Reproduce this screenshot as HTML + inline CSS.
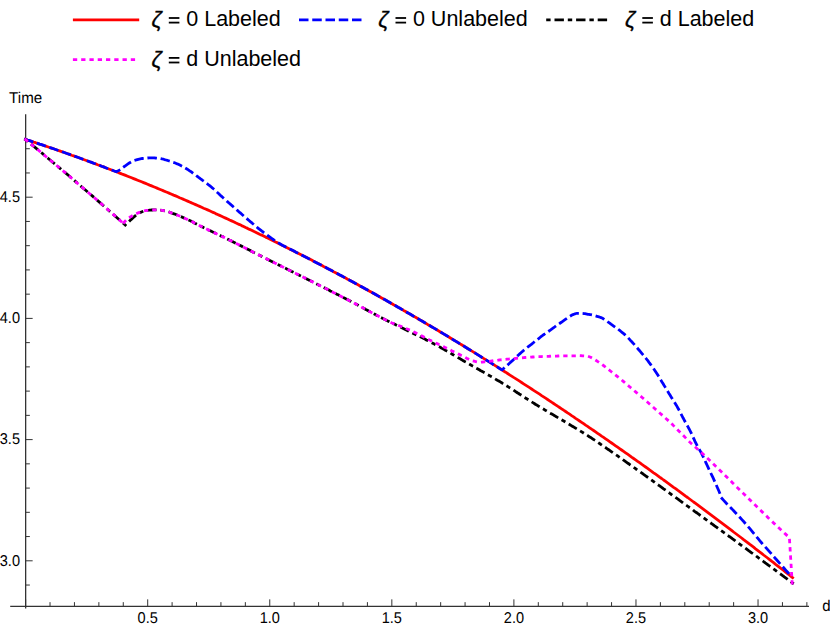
<!DOCTYPE html>
<html><head><meta charset="utf-8"><title>Plot</title>
<style>
html,body{margin:0;padding:0;background:#fff;}
svg{display:block;}
text{font-family:"Liberation Sans",sans-serif;fill:#000;}
.tk{font-size:15px;text-rendering:geometricPrecision;}
.lg{font-size:21.5px;}
.z{font-style:italic;}
</style></head>
<body>
<svg width="830" height="628" viewBox="0 0 830 628">
<rect width="830" height="628" fill="#ffffff"/>
<line x1="10.2" y1="606.35" x2="809" y2="606.35" stroke="#333333" stroke-width="1.3"/>
<line x1="25.65" y1="114.3" x2="25.65" y2="608.6" stroke="#333333" stroke-width="1.3"/>
<line x1="25.62" y1="606.35" x2="25.62" y2="599.35" stroke="#333333" stroke-width="1"/>
<line x1="50.03" y1="606.35" x2="50.03" y2="602.15" stroke="#333333" stroke-width="1"/>
<line x1="74.45" y1="606.35" x2="74.45" y2="602.15" stroke="#333333" stroke-width="1"/>
<line x1="98.86" y1="606.35" x2="98.86" y2="602.15" stroke="#333333" stroke-width="1"/>
<line x1="123.28" y1="606.35" x2="123.28" y2="602.15" stroke="#333333" stroke-width="1"/>
<line x1="147.69" y1="606.35" x2="147.69" y2="599.35" stroke="#333333" stroke-width="1"/>
<line x1="172.10" y1="606.35" x2="172.10" y2="602.15" stroke="#333333" stroke-width="1"/>
<line x1="196.52" y1="606.35" x2="196.52" y2="602.15" stroke="#333333" stroke-width="1"/>
<line x1="220.93" y1="606.35" x2="220.93" y2="602.15" stroke="#333333" stroke-width="1"/>
<line x1="245.35" y1="606.35" x2="245.35" y2="602.15" stroke="#333333" stroke-width="1"/>
<line x1="269.76" y1="606.35" x2="269.76" y2="599.35" stroke="#333333" stroke-width="1"/>
<line x1="294.17" y1="606.35" x2="294.17" y2="602.15" stroke="#333333" stroke-width="1"/>
<line x1="318.59" y1="606.35" x2="318.59" y2="602.15" stroke="#333333" stroke-width="1"/>
<line x1="343.00" y1="606.35" x2="343.00" y2="602.15" stroke="#333333" stroke-width="1"/>
<line x1="367.42" y1="606.35" x2="367.42" y2="602.15" stroke="#333333" stroke-width="1"/>
<line x1="391.83" y1="606.35" x2="391.83" y2="599.35" stroke="#333333" stroke-width="1"/>
<line x1="416.24" y1="606.35" x2="416.24" y2="602.15" stroke="#333333" stroke-width="1"/>
<line x1="440.66" y1="606.35" x2="440.66" y2="602.15" stroke="#333333" stroke-width="1"/>
<line x1="465.07" y1="606.35" x2="465.07" y2="602.15" stroke="#333333" stroke-width="1"/>
<line x1="489.49" y1="606.35" x2="489.49" y2="602.15" stroke="#333333" stroke-width="1"/>
<line x1="513.90" y1="606.35" x2="513.90" y2="599.35" stroke="#333333" stroke-width="1"/>
<line x1="538.31" y1="606.35" x2="538.31" y2="602.15" stroke="#333333" stroke-width="1"/>
<line x1="562.73" y1="606.35" x2="562.73" y2="602.15" stroke="#333333" stroke-width="1"/>
<line x1="587.14" y1="606.35" x2="587.14" y2="602.15" stroke="#333333" stroke-width="1"/>
<line x1="611.56" y1="606.35" x2="611.56" y2="602.15" stroke="#333333" stroke-width="1"/>
<line x1="635.97" y1="606.35" x2="635.97" y2="599.35" stroke="#333333" stroke-width="1"/>
<line x1="660.38" y1="606.35" x2="660.38" y2="602.15" stroke="#333333" stroke-width="1"/>
<line x1="684.80" y1="606.35" x2="684.80" y2="602.15" stroke="#333333" stroke-width="1"/>
<line x1="709.21" y1="606.35" x2="709.21" y2="602.15" stroke="#333333" stroke-width="1"/>
<line x1="733.63" y1="606.35" x2="733.63" y2="602.15" stroke="#333333" stroke-width="1"/>
<line x1="758.04" y1="606.35" x2="758.04" y2="599.35" stroke="#333333" stroke-width="1"/>
<line x1="782.45" y1="606.35" x2="782.45" y2="602.15" stroke="#333333" stroke-width="1"/>
<line x1="806.87" y1="606.35" x2="806.87" y2="602.15" stroke="#333333" stroke-width="1"/>
<line x1="25.65" y1="585.04" x2="29.85" y2="585.04" stroke="#333333" stroke-width="1"/>
<line x1="25.65" y1="560.80" x2="32.65" y2="560.80" stroke="#333333" stroke-width="1"/>
<line x1="25.65" y1="536.56" x2="29.85" y2="536.56" stroke="#333333" stroke-width="1"/>
<line x1="25.65" y1="512.32" x2="29.85" y2="512.32" stroke="#333333" stroke-width="1"/>
<line x1="25.65" y1="488.08" x2="29.85" y2="488.08" stroke="#333333" stroke-width="1"/>
<line x1="25.65" y1="463.84" x2="29.85" y2="463.84" stroke="#333333" stroke-width="1"/>
<line x1="25.65" y1="439.60" x2="32.65" y2="439.60" stroke="#333333" stroke-width="1"/>
<line x1="25.65" y1="415.36" x2="29.85" y2="415.36" stroke="#333333" stroke-width="1"/>
<line x1="25.65" y1="391.12" x2="29.85" y2="391.12" stroke="#333333" stroke-width="1"/>
<line x1="25.65" y1="366.88" x2="29.85" y2="366.88" stroke="#333333" stroke-width="1"/>
<line x1="25.65" y1="342.64" x2="29.85" y2="342.64" stroke="#333333" stroke-width="1"/>
<line x1="25.65" y1="318.40" x2="32.65" y2="318.40" stroke="#333333" stroke-width="1"/>
<line x1="25.65" y1="294.16" x2="29.85" y2="294.16" stroke="#333333" stroke-width="1"/>
<line x1="25.65" y1="269.92" x2="29.85" y2="269.92" stroke="#333333" stroke-width="1"/>
<line x1="25.65" y1="245.68" x2="29.85" y2="245.68" stroke="#333333" stroke-width="1"/>
<line x1="25.65" y1="221.44" x2="29.85" y2="221.44" stroke="#333333" stroke-width="1"/>
<line x1="25.65" y1="197.20" x2="32.65" y2="197.20" stroke="#333333" stroke-width="1"/>
<line x1="25.65" y1="172.96" x2="29.85" y2="172.96" stroke="#333333" stroke-width="1"/>
<line x1="25.65" y1="148.72" x2="29.85" y2="148.72" stroke="#333333" stroke-width="1"/>
<text transform="translate(147.69,622.8) scale(0.97,1.04)" text-anchor="middle" class="tk">0.5</text>
<text transform="translate(269.76,622.8) scale(0.97,1.04)" text-anchor="middle" class="tk">1.0</text>
<text transform="translate(391.83,622.8) scale(0.97,1.04)" text-anchor="middle" class="tk">1.5</text>
<text transform="translate(513.90,622.8) scale(0.97,1.04)" text-anchor="middle" class="tk">2.0</text>
<text transform="translate(635.97,622.8) scale(0.97,1.04)" text-anchor="middle" class="tk">2.5</text>
<text transform="translate(758.04,622.8) scale(0.97,1.04)" text-anchor="middle" class="tk">3.0</text>
<text transform="translate(20.0,565.50) scale(0.97,1.04)" text-anchor="end" class="tk">3.0</text>
<text transform="translate(20.0,444.30) scale(0.97,1.04)" text-anchor="end" class="tk">3.5</text>
<text transform="translate(20.0,323.10) scale(0.97,1.04)" text-anchor="end" class="tk">4.0</text>
<text transform="translate(20.0,201.90) scale(0.97,1.04)" text-anchor="end" class="tk">4.5</text>
<text transform="translate(9.1,102.5) scale(1.01,1.04)" class="tk">Time</text>
<text transform="translate(822.2,610.6) scale(1,1.04)" class="tk">d</text>
<path d="M25.6,139.4 L27.6,140.1 L29.6,140.7 L31.6,141.4 L33.6,142.1 L35.6,142.7 L37.6,143.4 L39.6,144.1 L41.6,144.7 L43.6,145.4 L45.6,146.1 L47.6,146.8 L49.6,147.5 L51.6,148.1 L53.6,148.8 L55.6,149.5 L57.6,150.2 L59.6,150.9 L61.6,151.6 L63.6,152.3 L65.6,153.0 L67.6,153.7 L69.6,154.4 L71.6,155.2 L73.6,155.9 L75.6,156.6 L77.6,157.3 L79.6,158.0 L81.6,158.8 L83.6,159.5 L85.6,160.2 L87.6,161.0 L89.6,161.7 L91.6,162.4 L93.6,163.2 L95.6,163.9 L97.6,164.7 L99.6,165.4 L101.6,166.2 L103.6,166.9 L105.6,167.7 L107.6,168.5 L109.6,169.2 L111.6,170.0 L113.6,170.8 L115.6,171.5 L117.6,172.3 L119.6,173.1 L121.6,173.9 L123.6,174.6 L125.6,175.4 L127.6,176.2 L129.6,177.0 L131.6,177.8 L133.6,178.6 L135.6,179.4 L137.6,180.2 L139.6,181.0 L141.6,181.8 L143.6,182.6 L145.6,183.4 L147.6,184.2 L149.6,185.1 L151.6,185.9 L153.6,186.7 L155.6,187.5 L157.6,188.4 L159.6,189.2 L161.6,190.0 L163.6,190.9 L165.6,191.7 L167.6,192.5 L169.6,193.4 L171.6,194.2 L173.6,195.1 L175.6,195.9 L177.6,196.8 L179.6,197.7 L181.6,198.5 L183.6,199.4 L185.6,200.2 L187.6,201.1 L189.6,202.0 L191.6,202.9 L193.6,203.7 L195.6,204.6 L197.6,205.5 L199.6,206.4 L201.6,207.3 L203.6,208.2 L205.6,209.0 L207.6,209.9 L209.6,210.8 L211.6,211.7 L213.6,212.6 L215.6,213.6 L217.6,214.5 L219.6,215.4 L221.6,216.3 L223.6,217.2 L225.6,218.1 L227.6,219.0 L229.6,220.0 L231.6,220.9 L233.6,221.8 L235.6,222.8 L237.6,223.7 L239.6,224.6 L241.6,225.6 L243.6,226.5 L245.6,227.5 L247.6,228.4 L249.6,229.4 L251.6,230.3 L253.6,231.3 L255.6,232.2 L257.6,233.2 L259.6,234.2 L261.6,235.1 L263.6,236.1 L265.6,237.1 L267.6,238.0 L269.6,239.0 L271.6,240.0 L273.6,241.0 L275.6,242.0 L277.6,242.9 L279.6,243.9 L281.6,244.9 L283.6,245.9 L285.6,246.9 L287.6,247.9 L289.6,248.9 L291.6,249.9 L293.6,250.9 L295.6,252.0 L297.6,253.0 L299.6,254.0 L301.6,255.0 L303.6,256.0 L305.6,257.0 L307.6,258.1 L309.6,259.1 L311.6,260.1 L313.6,261.2 L315.6,262.2 L317.6,263.2 L319.6,264.3 L321.6,265.3 L323.6,266.4 L325.6,267.4 L327.6,268.5 L329.6,269.5 L331.6,270.6 L333.6,271.7 L335.6,272.7 L337.6,273.8 L339.6,274.9 L341.6,275.9 L343.6,277.0 L345.6,278.1 L347.6,279.2 L349.6,280.2 L351.6,281.3 L353.6,282.4 L355.6,283.5 L357.6,284.6 L359.6,285.7 L361.6,286.8 L363.6,287.9 L365.6,289.0 L367.6,290.1 L369.6,291.2 L371.6,292.3 L373.6,293.4 L375.6,294.5 L377.6,295.6 L379.6,296.8 L381.6,297.9 L383.6,299.0 L385.6,300.1 L387.6,301.3 L389.6,302.4 L391.6,303.5 L393.6,304.7 L395.6,305.8 L397.6,306.9 L399.6,308.1 L401.6,309.2 L403.6,310.4 L405.6,311.5 L407.6,312.7 L409.6,313.8 L411.6,315.0 L413.6,316.2 L415.6,317.3 L417.6,318.5 L419.6,319.7 L421.6,320.8 L423.6,322.0 L425.6,323.2 L427.6,324.4 L429.6,325.5 L431.6,326.7 L433.6,327.9 L435.6,329.1 L437.6,330.3 L439.6,331.5 L441.6,332.7 L443.6,333.9 L445.6,335.1 L447.6,336.3 L449.6,337.5 L451.6,338.7 L453.6,339.9 L455.6,341.1 L457.6,342.3 L459.6,343.6 L461.6,344.8 L463.6,346.0 L465.6,347.2 L467.6,348.5 L469.6,349.7 L471.6,350.9 L473.6,352.1 L475.6,353.4 L477.6,354.6 L479.6,355.9 L481.6,357.1 L483.6,358.4 L485.6,359.6 L487.6,360.9 L489.6,362.1 L491.6,363.4 L493.6,364.6 L495.6,365.9 L497.6,367.2 L499.6,368.4 L501.6,369.7 L503.6,371.0 L505.6,372.2 L507.6,373.5 L509.6,374.8 L511.6,376.1 L513.6,377.4 L515.6,378.6 L517.6,379.9 L519.6,381.2 L521.6,382.5 L523.6,383.8 L525.6,385.1 L527.6,386.4 L529.6,387.7 L531.6,389.0 L533.6,390.3 L535.6,391.6 L537.6,392.9 L539.6,394.2 L541.6,395.6 L543.6,396.9 L545.6,398.2 L547.6,399.5 L549.6,400.8 L551.6,402.2 L553.6,403.5 L555.6,404.8 L557.6,406.2 L559.6,407.5 L561.6,408.8 L563.6,410.2 L565.6,411.5 L567.6,412.9 L569.6,414.2 L571.6,415.6 L573.6,416.9 L575.6,418.3 L577.6,419.6 L579.6,421.0 L581.6,422.3 L583.6,423.7 L585.6,425.1 L587.6,426.4 L589.6,427.8 L591.6,429.2 L593.6,430.5 L595.6,431.9 L597.6,433.3 L599.6,434.7 L601.6,436.1 L603.6,437.4 L605.6,438.8 L607.6,440.2 L609.6,441.6 L611.6,443.0 L613.6,444.4 L615.6,445.8 L617.6,447.2 L619.6,448.6 L621.6,450.0 L623.6,451.4 L625.6,452.8 L627.6,454.2 L629.6,455.6 L631.6,457.1 L633.6,458.5 L635.6,459.9 L637.6,461.3 L639.6,462.7 L641.6,464.2 L643.6,465.6 L645.6,467.0 L647.6,468.4 L649.6,469.9 L651.6,471.3 L653.6,472.8 L655.6,474.2 L657.6,475.6 L659.6,477.1 L661.6,478.5 L663.6,480.0 L665.6,481.4 L667.6,482.9 L669.6,484.3 L671.6,485.8 L673.6,487.3 L675.6,488.7 L677.6,490.2 L679.6,491.6 L681.6,493.1 L683.6,494.6 L685.6,496.1 L687.6,497.5 L689.6,499.0 L691.6,500.5 L693.6,502.0 L695.6,503.4 L697.6,504.9 L699.6,506.4 L701.6,507.9 L703.6,509.4 L705.6,510.9 L707.6,512.4 L709.6,513.9 L711.6,515.4 L713.6,516.9 L715.6,518.4 L717.6,519.9 L719.6,521.4 L721.6,522.9 L723.6,524.4 L725.6,525.9 L727.6,527.4 L729.6,528.9 L731.6,530.4 L733.6,532.0 L735.6,533.5 L737.6,535.0 L739.6,536.5 L741.6,538.0 L743.6,539.6 L745.6,541.1 L747.6,542.6 L749.6,544.2 L751.6,545.7 L753.6,547.2 L755.6,548.8 L757.6,550.3 L759.6,551.9 L761.6,553.4 L763.6,555.0 L765.6,556.5 L767.6,558.0 L769.6,559.6 L771.6,561.2 L773.6,562.7 L775.6,564.3 L777.6,565.8 L779.6,567.4 L781.6,569.0 L783.6,570.5 L785.6,572.1 L787.6,573.6 L789.6,575.2 L791.6,576.8 L792.6,577.6" fill="none" stroke="#ff0000" stroke-width="2.8" stroke-linejoin="round" stroke-linecap="square"/>
<path d="M25.6,139.4 L27.6,140.1 L29.6,140.7 L31.6,141.4 L33.6,142.1 L35.6,142.7 L37.6,143.4 L39.6,144.1 L41.6,144.7 L43.6,145.4 L45.6,146.1 L47.6,146.8 L49.6,147.5 L51.6,148.1 L53.6,148.8 L55.6,149.5 L57.6,150.2 L59.6,150.9 L61.6,151.6 L63.6,152.3 L65.6,153.0 L67.6,153.7 L69.6,154.4 L71.6,155.2 L73.6,155.9 L75.6,156.6 L77.6,157.3 L79.6,158.0 L81.6,158.8 L83.6,159.5 L85.6,160.2 L87.6,161.0 L89.6,161.7 L91.6,162.4 L93.6,163.2 L95.6,163.9 L97.6,164.7 L99.6,165.4 L101.6,166.2 L103.6,166.9 L105.6,167.7 L107.6,168.5 L109.6,169.2 L111.6,170.0 L113.6,170.8 L115.6,171.5 L116.3,171.8 L117.3,171.3 L118.3,170.8 L119.3,170.2 L120.3,169.6 L121.3,168.9 L122.3,168.2 L123.3,167.4 L124.3,166.5 L125.3,165.8 L126.3,165.1 L127.3,164.4 L128.3,163.7 L129.3,163.0 L130.3,162.4 L131.3,161.8 L132.3,161.3 L133.3,160.9 L134.3,160.5 L135.3,160.2 L136.3,159.9 L137.3,159.6 L138.3,159.3 L139.3,159.1 L140.3,158.9 L141.3,158.7 L142.3,158.5 L143.3,158.4 L144.3,158.3 L145.3,158.2 L146.3,158.1 L147.3,158.0 L148.3,157.9 L149.3,157.8 L150.3,157.8 L151.3,157.8 L152.3,157.8 L153.3,157.9 L154.3,157.9 L155.3,158.0 L156.3,158.1 L157.3,158.2 L158.3,158.4 L159.3,158.5 L160.3,158.6 L161.3,158.8 L162.3,159.0 L163.3,159.2 L164.3,159.5 L165.3,159.8 L166.3,160.0 L167.3,160.3 L168.3,160.7 L169.3,161.0 L170.3,161.3 L171.3,161.6 L172.3,161.9 L173.3,162.3 L174.3,162.7 L175.3,163.0 L176.3,163.5 L177.3,163.9 L178.3,164.3 L179.3,164.8 L180.3,165.3 L181.3,165.8 L182.3,166.3 L183.3,166.9 L184.3,167.4 L185.3,168.0 L186.3,168.6 L187.3,169.2 L188.3,169.9 L189.3,170.6 L190.3,171.2 L191.3,171.9 L192.3,172.7 L193.3,173.4 L194.3,174.1 L195.3,174.9 L196.3,175.6 L197.3,176.4 L198.3,177.2 L199.3,177.9 L200.3,178.7 L201.3,179.4 L202.3,180.2 L203.3,180.9 L204.3,181.7 L205.3,182.4 L206.3,183.1 L207.3,183.9 L208.3,184.7 L209.3,185.4 L210.3,186.2 L211.3,187.0 L212.3,187.9 L213.3,188.7 L214.3,189.6 L215.3,190.5 L216.3,191.5 L217.3,192.4 L218.3,193.3 L219.3,194.2 L220.3,195.2 L221.3,196.1 L222.3,197.0 L223.3,197.9 L224.3,198.8 L225.3,199.7 L226.3,200.6 L227.3,201.5 L228.3,202.4 L229.3,203.2 L230.3,204.1 L231.3,205.0 L232.3,205.9 L233.3,206.8 L234.3,207.7 L235.3,208.6 L236.3,209.4 L237.3,210.3 L238.3,211.2 L239.3,212.1 L240.3,212.9 L241.3,213.8 L242.3,214.7 L243.3,215.6 L244.3,216.4 L245.3,217.3 L246.3,218.2 L247.3,219.0 L248.3,219.9 L249.3,220.7 L250.3,221.6 L251.3,222.4 L252.3,223.3 L253.3,224.1 L254.3,225.0 L255.3,225.8 L256.3,226.6 L257.3,227.5 L258.3,228.3 L259.3,229.1 L260.3,229.9 L261.3,230.7 L262.3,231.5 L263.3,232.2 L264.3,233.0 L265.3,233.7 L266.3,234.5 L267.3,235.2 L268.3,236.0 L269.3,236.7 L270.3,237.4 L271.3,238.1 L272.3,238.8 L273.3,239.5 L274.3,240.2 L275.3,240.9 L276.3,241.5 L277.3,242.2 L278.3,242.8 L279.3,243.4 L280.3,244.0 L281.3,244.6 L282.3,245.2 L283.3,245.7 L284.0,246.1 L286.0,247.1 L288.0,248.1 L290.0,249.1 L292.0,250.1 L294.0,251.1 L296.0,252.2 L298.0,253.2 L300.0,254.2 L302.0,255.2 L304.0,256.2 L306.0,257.3 L308.0,258.3 L310.0,259.3 L312.0,260.3 L314.0,261.4 L316.0,262.4 L318.0,263.5 L320.0,264.5 L322.0,265.5 L324.0,266.6 L326.0,267.6 L328.0,268.7 L330.0,269.8 L332.0,270.8 L334.0,271.9 L336.0,272.9 L338.0,274.0 L340.0,275.1 L342.0,276.1 L344.0,277.2 L346.0,278.3 L348.0,279.4 L350.0,280.4 L352.0,281.5 L354.0,282.6 L356.0,283.7 L358.0,284.8 L360.0,285.9 L362.0,287.0 L364.0,288.1 L366.0,289.2 L368.0,290.3 L370.0,291.4 L372.0,292.5 L374.0,293.6 L376.0,294.7 L378.0,295.9 L380.0,297.0 L382.0,298.1 L384.0,299.2 L386.0,300.3 L388.0,301.5 L390.0,302.6 L392.0,303.7 L394.0,304.9 L396.0,306.0 L398.0,307.2 L400.0,308.3 L402.0,309.5 L404.0,310.6 L406.0,311.8 L408.0,312.9 L410.0,314.1 L412.0,315.2 L414.0,316.4 L416.0,317.6 L418.0,318.7 L420.0,319.9 L422.0,321.1 L424.0,322.2 L426.0,323.4 L428.0,324.6 L430.0,325.8 L432.0,327.0 L434.0,328.1 L436.0,329.3 L438.0,330.5 L440.0,331.7 L442.0,332.9 L444.0,334.1 L446.0,335.3 L448.0,336.5 L450.0,337.7 L452.0,338.9 L454.0,340.2 L456.0,341.4 L458.0,342.6 L460.0,343.8 L462.0,345.0 L464.0,346.2 L466.0,347.5 L468.0,348.7 L470.0,349.9 L472.0,351.2 L474.0,352.4 L476.0,353.6 L478.0,354.9 L480.0,356.1 L482.0,357.4 L484.0,358.6 L486.0,359.9 L488.0,361.1 L490.0,362.4 L492.0,363.6 L494.0,364.9 L496.0,366.1 L498.0,367.4 L500.0,368.7 L502.0,369.9 L503.0,369.1 L504.0,368.2 L505.0,367.3 L506.0,366.4 L507.0,365.5 L508.0,364.6 L509.0,363.7 L510.0,362.8 L511.0,361.9 L512.0,361.0 L513.0,360.1 L514.0,359.2 L515.0,358.2 L516.0,357.3 L517.0,356.4 L518.0,355.4 L519.0,354.5 L520.0,353.6 L521.0,352.7 L522.0,351.8 L523.0,351.0 L524.0,350.1 L525.0,349.3 L526.0,348.5 L527.0,347.7 L528.0,346.9 L529.0,346.1 L530.0,345.3 L531.0,344.6 L532.0,343.8 L533.0,343.0 L534.0,342.2 L535.0,341.4 L536.0,340.6 L537.0,339.8 L538.0,339.1 L539.0,338.3 L540.0,337.5 L541.0,336.7 L542.0,336.0 L543.0,335.2 L544.0,334.5 L545.0,333.8 L546.0,333.1 L547.0,332.4 L548.0,331.7 L549.0,331.0 L550.0,330.3 L551.0,329.6 L552.0,328.9 L553.0,328.2 L554.0,327.5 L555.0,326.7 L556.0,326.0 L557.0,325.3 L558.0,324.6 L559.0,323.9 L560.0,323.2 L561.0,322.5 L562.0,321.8 L563.0,321.1 L564.0,320.4 L565.0,319.7 L566.0,319.0 L567.0,318.3 L568.0,317.6 L569.0,316.9 L570.0,316.3 L571.0,315.7 L572.0,315.1 L573.0,314.6 L574.0,314.2 L575.0,313.8 L576.0,313.5 L577.0,313.3 L578.0,313.3 L579.0,313.3 L580.0,313.3 L581.0,313.4 L582.0,313.4 L583.0,313.5 L584.0,313.6 L585.0,313.7 L586.0,313.9 L587.0,314.1 L588.0,314.3 L589.0,314.4 L590.0,314.6 L591.0,314.8 L592.0,315.0 L593.0,315.2 L594.0,315.5 L595.0,315.7 L596.0,316.0 L597.0,316.3 L598.0,316.6 L599.0,316.9 L600.0,317.2 L601.0,317.6 L602.0,318.1 L603.0,318.6 L604.0,319.2 L605.0,319.8 L606.0,320.5 L607.0,321.2 L608.0,322.0 L609.0,322.7 L610.0,323.4 L611.0,324.2 L612.0,324.9 L613.0,325.6 L614.0,326.3 L615.0,327.0 L616.0,327.7 L617.0,328.4 L618.0,329.2 L619.0,329.9 L620.0,330.7 L621.0,331.5 L622.0,332.3 L623.0,333.1 L624.0,333.9 L625.0,334.8 L626.0,335.8 L627.0,336.7 L628.0,337.8 L629.0,338.8 L630.0,339.9 L631.0,340.9 L632.0,342.0 L633.0,343.1 L634.0,344.2 L635.0,345.3 L636.0,346.5 L637.0,347.6 L638.0,348.8 L639.0,350.0 L640.0,351.2 L641.0,352.4 L642.0,353.6 L643.0,354.8 L644.0,356.0 L645.0,357.2 L646.0,358.4 L647.0,359.7 L648.0,360.9 L649.0,362.3 L650.0,363.6 L651.0,365.0 L652.0,366.3 L653.0,367.8 L654.0,369.2 L655.0,370.7 L656.0,372.2 L657.0,373.7 L658.0,375.3 L659.0,376.9 L660.0,378.6 L661.0,380.3 L662.0,382.0 L663.0,383.6 L664.0,385.3 L665.0,386.9 L666.0,388.6 L667.0,390.2 L668.0,391.8 L669.0,393.5 L670.0,395.1 L671.0,396.7 L672.0,398.3 L673.0,399.9 L674.0,401.5 L675.0,403.1 L676.0,404.7 L677.0,406.4 L678.0,408.2 L679.0,410.0 L680.0,411.9 L681.0,413.9 L682.0,415.8 L683.0,417.8 L684.0,419.6 L685.0,421.5 L686.0,423.3 L687.0,425.1 L688.0,426.9 L689.0,428.7 L690.0,430.6 L691.0,432.6 L692.0,434.8 L693.0,437.0 L694.0,439.2 L695.0,441.4 L696.0,443.4 L697.0,445.3 L698.0,447.1 L699.0,448.9 L700.0,450.6 L701.0,452.4 L702.0,454.3 L703.0,456.3 L704.0,458.4 L705.0,460.6 L706.0,462.8 L707.0,465.0 L708.0,467.1 L709.0,469.3 L710.0,471.4 L711.0,473.5 L712.0,475.6 L713.0,477.7 L714.0,479.9 L715.0,482.1 L716.0,484.4 L717.0,486.7 L718.0,489.0 L719.0,491.3 L720.0,493.7 L721.0,496.2 L721.9,498.4 L723.9,500.6 L725.9,502.8 L727.9,504.9 L729.9,506.9 L731.9,508.9 L733.9,511.0 L735.9,513.1 L737.9,515.2 L739.9,517.4 L741.9,519.6 L743.9,521.8 L745.9,524.1 L747.9,526.4 L749.9,528.7 L751.9,531.1 L753.9,533.5 L755.9,535.9 L757.9,538.4 L759.9,540.8 L761.9,543.2 L763.9,545.4 L765.9,547.6 L767.9,549.9 L769.9,552.1 L771.9,554.4 L773.9,556.7 L775.9,559.0 L777.9,561.2 L779.9,563.5 L781.9,565.8 L783.9,568.0 L785.9,570.3 L787.9,572.5 L789.9,574.8 L791.9,577.1 L792.1,577.3" fill="none" stroke="#0000ff" stroke-width="2.8" stroke-dasharray="6.7 6.55" stroke-linecap="square" stroke-linejoin="miter"/>
<path d="M25.6,139.7 L29.6,143.0 L33.6,146.2 L37.6,149.5 L41.6,152.8 L45.5,156.2 L49.5,159.5 L53.5,162.8 L57.5,166.2 L61.5,169.6 L65.5,172.9 L69.5,176.3 L73.5,179.7 L77.4,183.2 L81.4,186.6 L85.4,190.0 L89.4,193.5 L93.4,196.9 L97.4,200.4 L101.4,203.9 L105.4,207.4 L109.3,210.9 L113.3,214.4 L117.3,218.0 L121.3,221.5 L125.3,225.1 L126.3,224.1 L127.3,223.2 L128.3,222.2 L129.3,221.3 L130.3,220.3 L131.3,219.4 L132.3,218.5 L133.3,217.5 L134.3,216.6 L135.3,215.8 L136.3,215.0 L137.3,214.3 L138.3,213.7 L139.3,213.1 L140.3,212.6 L141.3,212.1 L142.3,211.7 L143.3,211.3 L144.3,211.1 L145.3,210.8 L146.3,210.6 L147.3,210.5 L148.3,210.3 L149.3,210.2 L150.3,210.1 L151.3,210.0 L152.3,210.0 L153.3,209.9 L154.3,209.9 L155.3,209.9 L156.3,209.9 L157.3,209.9 L158.3,210.0 L159.3,210.0 L160.3,210.1 L161.3,210.3 L162.3,210.4 L163.3,210.6 L164.3,210.7 L165.3,210.9 L166.3,211.2 L167.3,211.5 L168.3,211.8 L169.3,212.1 L170.3,212.5 L171.3,212.9 L172.3,213.2 L173.3,213.6 L174.3,213.9 L175.3,214.3 L176.3,214.7 L177.3,215.1 L178.3,215.5 L179.3,215.9 L180.3,216.4 L181.3,216.8 L182.3,217.2 L183.3,217.6 L184.3,218.1 L185.3,218.5 L186.3,219.0 L187.3,219.4 L188.3,219.9 L189.3,220.4 L190.3,220.8 L191.3,221.3 L192.3,221.8 L193.3,222.3 L194.3,222.9 L195.3,223.4 L196.3,223.9 L197.3,224.4 L198.3,224.9 L199.3,225.4 L200.3,225.9 L201.3,226.4 L202.3,226.9 L203.3,227.4 L204.3,227.9 L205.3,228.4 L206.3,228.9 L207.3,229.4 L208.3,229.9 L209.3,230.3 L210.3,230.8 L211.3,231.3 L212.3,231.8 L213.3,232.2 L214.3,232.7 L215.3,233.2 L216.3,233.7 L217.3,234.2 L218.3,234.6 L219.3,235.1 L220.3,235.6 L221.3,236.1 L222.3,236.5 L223.3,237.0 L224.3,237.5 L225.3,238.0 L226.3,238.5 L227.3,239.0 L228.3,239.5 L229.3,240.0 L230.3,240.4 L231.3,240.9 L232.3,241.4 L233.3,242.0 L234.3,242.5 L235.3,243.0 L236.3,243.5 L237.3,244.0 L238.3,244.5 L239.3,245.0 L240.3,245.5 L241.3,246.0 L242.3,246.6 L243.3,247.1 L244.3,247.6 L245.3,248.1 L246.3,248.6 L247.3,249.1 L248.3,249.6 L249.3,250.1 L250.3,250.6 L251.3,251.2 L252.3,251.7 L253.3,252.2 L254.3,252.7 L255.3,253.2 L256.3,253.7 L257.3,254.2 L258.3,254.7 L259.3,255.2 L260.3,255.7 L261.3,256.2 L262.3,256.7 L263.3,257.2 L264.3,257.7 L265.3,258.2 L266.3,258.7 L267.3,259.2 L268.3,259.7 L269.3,260.2 L270.3,260.7 L271.3,261.2 L272.3,261.7 L273.3,262.2 L274.3,262.7 L275.3,263.2 L276.3,263.7 L277.3,264.2 L278.3,264.7 L279.3,265.2 L280.3,265.7 L281.3,266.2 L282.3,266.7 L283.3,267.2 L284.3,267.7 L285.3,268.2 L286.3,268.7 L287.3,269.2 L288.3,269.7 L289.3,270.2 L290.3,270.7 L291.3,271.2 L292.3,271.7 L293.3,272.2 L294.3,272.7 L295.3,273.2 L296.3,273.7 L297.3,274.2 L298.3,274.7 L299.3,275.2 L300.3,275.7 L301.3,276.2 L302.3,276.7 L303.3,277.2 L304.3,277.7 L305.3,278.2 L306.3,278.7 L307.3,279.2 L308.3,279.7 L309.3,280.2 L310.3,280.7 L311.3,281.2 L312.3,281.7 L313.3,282.3 L314.3,282.8 L315.3,283.3 L316.3,283.8 L317.3,284.3 L318.3,284.8 L319.3,285.3 L320.3,285.8 L321.3,286.3 L322.3,286.8 L323.3,287.3 L324.3,287.8 L325.3,288.3 L326.3,288.8 L327.3,289.3 L328.3,289.8 L329.3,290.3 L330.3,290.9 L331.3,291.4 L332.3,291.9 L333.3,292.4 L334.3,292.9 L335.3,293.4 L336.3,293.9 L337.3,294.4 L338.3,294.9 L339.3,295.5 L340.3,296.0 L341.3,296.5 L342.3,297.0 L343.3,297.5 L344.3,298.0 L345.3,298.5 L346.3,299.1 L347.3,299.6 L348.3,300.1 L349.3,300.6 L350.3,301.1 L351.3,301.7 L352.3,302.2 L353.3,302.7 L354.3,303.2 L355.3,303.8 L356.3,304.3 L357.3,304.8 L358.3,305.4 L359.3,305.9 L360.3,306.4 L361.3,307.0 L362.3,307.5 L363.3,308.1 L364.3,308.6 L365.3,309.2 L366.3,309.7 L367.3,310.2 L368.3,310.8 L369.3,311.3 L370.3,311.9 L371.3,312.4 L372.3,312.9 L373.3,313.5 L374.3,314.0 L375.3,314.5 L376.3,315.1 L377.3,315.6 L378.3,316.1 L379.3,316.6 L380.3,317.2 L381.3,317.7 L382.3,318.2 L383.3,318.7 L384.3,319.2 L385.3,319.7 L386.3,320.2 L387.3,320.7 L388.3,321.2 L389.3,321.6 L390.3,322.1 L391.3,322.6 L392.3,323.1 L393.3,323.6 L394.3,324.1 L395.3,324.6 L396.3,325.1 L397.3,325.6 L398.3,326.1 L399.3,326.6 L400.3,327.0 L401.3,327.5 L402.3,328.0 L403.3,328.5 L404.3,329.0 L405.3,329.5 L406.3,330.0 L407.3,330.5 L408.3,331.0 L409.3,331.5 L410.3,331.9 L411.3,332.4 L412.3,332.9 L413.3,333.4 L414.3,333.9 L415.3,334.4 L416.3,334.9 L417.3,335.4 L418.3,335.9 L419.3,336.3 L420.3,336.8 L421.3,337.3 L422.3,337.8 L423.3,338.3 L424.3,338.8 L425.3,339.3 L426.3,339.9 L427.3,340.4 L428.3,340.9 L429.3,341.4 L430.3,341.9 L431.3,342.4 L432.3,343.0 L433.3,343.5 L434.3,344.0 L435.3,344.6 L436.3,345.1 L437.3,345.6 L438.3,346.2 L439.3,346.8 L440.3,347.3 L441.3,347.9 L442.3,348.4 L443.3,349.0 L444.3,349.6 L445.3,350.2 L446.3,350.7 L447.3,351.3 L448.3,351.9 L449.3,352.5 L450.3,353.1 L451.3,353.6 L452.3,354.2 L453.3,354.8 L454.3,355.4 L455.3,356.0 L456.3,356.6 L457.3,357.2 L458.3,357.7 L459.3,358.3 L460.3,358.9 L461.3,359.5 L462.3,360.1 L463.3,360.7 L464.3,361.3 L465.3,361.8 L466.3,362.4 L467.3,363.0 L468.3,363.6 L469.3,364.1 L470.3,364.7 L471.3,365.3 L472.3,365.8 L473.3,366.4 L474.3,367.0 L475.3,367.5 L476.3,368.1 L477.3,368.7 L478.3,369.2 L479.3,369.8 L480.3,370.4 L481.3,370.9 L482.3,371.5 L483.3,372.1 L484.3,372.6 L485.3,373.2 L486.3,373.8 L487.3,374.3 L488.3,374.9 L489.3,375.5 L490.3,376.1 L491.3,376.6 L492.3,377.2 L493.3,377.8 L494.3,378.4 L495.3,379.0 L496.3,379.6 L497.3,380.2 L498.3,380.7 L499.3,381.3 L500.3,381.9 L501.3,382.5 L502.3,383.2 L503.3,383.8 L504.3,384.4 L505.3,385.0 L506.3,385.6 L507.3,386.3 L508.3,386.9 L509.3,387.5 L510.3,388.2 L511.3,388.8 L512.3,389.4 L513.3,390.1 L514.3,390.7 L515.3,391.4 L516.3,392.0 L517.3,392.7 L518.3,393.3 L519.3,394.0 L520.3,394.6 L521.3,395.3 L522.3,395.9 L523.3,396.6 L524.3,397.2 L525.3,397.9 L526.3,398.5 L527.3,399.1 L528.3,399.8 L529.3,400.4 L530.3,401.0 L531.3,401.7 L532.3,402.3 L533.3,402.9 L534.3,403.5 L535.3,404.2 L536.3,404.8 L537.3,405.4 L538.3,406.0 L539.3,406.6 L540.3,407.2 L541.3,407.8 L542.3,408.4 L543.3,409.0 L544.3,409.6 L545.3,410.2 L546.3,410.8 L547.3,411.4 L548.3,412.0 L549.3,412.6 L550.3,413.2 L551.3,413.8 L552.3,414.3 L553.3,414.9 L554.3,415.5 L555.3,416.1 L556.3,416.7 L557.3,417.3 L558.3,417.9 L559.3,418.5 L560.3,419.0 L561.3,419.6 L562.3,420.2 L563.3,420.8 L564.3,421.4 L565.3,422.0 L566.3,422.6 L567.3,423.2 L568.3,423.8 L569.3,424.4 L570.3,425.0 L571.3,425.6 L572.3,426.2 L573.3,426.8 L574.3,427.4 L575.3,428.0 L576.3,428.6 L577.3,429.2 L578.3,429.8 L579.3,430.4 L580.3,431.0 L581.3,431.6 L582.3,432.2 L583.3,432.9 L584.3,433.5 L585.3,434.1 L586.3,434.7 L587.3,435.4 L588.3,436.0 L589.3,436.7 L590.3,437.3 L591.3,437.9 L592.3,438.6 L593.3,439.3 L594.3,439.9 L595.3,440.6 L596.3,441.3 L597.3,441.9 L598.3,442.6 L599.3,443.3 L600.3,444.0 L601.3,444.7 L602.3,445.3 L603.3,446.0 L604.3,446.7 L605.3,447.4 L606.3,448.1 L607.3,448.8 L608.3,449.5 L609.3,450.2 L610.3,450.9 L611.3,451.6 L612.3,452.3 L613.3,452.9 L614.3,453.6 L615.3,454.3 L616.3,455.0 L617.3,455.7 L618.3,456.4 L619.3,457.1 L620.3,457.8 L621.3,458.5 L622.3,459.2 L623.3,460.0 L624.3,460.7 L625.3,461.4 L626.3,462.1 L627.3,462.8 L628.3,463.5 L629.3,464.2 L630.3,464.9 L631.3,465.6 L632.3,466.3 L633.3,467.0 L634.3,467.7 L635.3,468.4 L636.3,469.2 L637.3,469.9 L638.3,470.6 L639.3,471.3 L640.3,472.0 L641.3,472.7 L642.3,473.4 L643.3,474.2 L644.3,474.9 L645.3,475.6 L646.3,476.3 L647.3,477.0 L648.3,477.8 L649.3,478.5 L650.3,479.2 L651.3,479.9 L652.3,480.6 L653.3,481.3 L654.3,482.1 L655.3,482.8 L656.3,483.5 L657.3,484.2 L658.3,485.0 L659.3,485.7 L660.3,486.4 L661.3,487.1 L662.3,487.8 L663.3,488.6 L664.3,489.3 L665.3,490.0 L666.3,490.7 L667.3,491.5 L668.3,492.2 L669.3,492.9 L670.3,493.6 L671.3,494.4 L672.3,495.1 L673.3,495.8 L674.3,496.5 L675.3,497.3 L676.3,498.0 L677.3,498.7 L678.3,499.4 L679.3,500.2 L680.3,500.9 L681.3,501.6 L682.3,502.4 L683.3,503.1 L684.3,503.8 L685.3,504.5 L686.3,505.3 L687.3,506.0 L688.3,506.7 L689.3,507.4 L690.3,508.2 L691.3,508.9 L692.3,509.6 L693.3,510.3 L694.3,511.1 L695.3,511.8 L696.3,512.5 L697.3,513.2 L698.3,514.0 L699.3,514.7 L700.3,515.4 L701.3,516.1 L702.3,516.9 L703.3,517.6 L704.3,518.3 L705.3,519.0 L706.3,519.8 L707.3,520.5 L708.3,521.2 L709.3,521.9 L710.3,522.7 L711.3,523.4 L712.3,524.1 L713.3,524.8 L714.3,525.6 L715.3,526.3 L716.3,527.0 L717.3,527.8 L718.3,528.5 L719.3,529.2 L720.3,529.9 L721.3,530.7 L722.3,531.4 L723.3,532.1 L724.3,532.8 L725.3,533.6 L726.3,534.3 L727.3,535.0 L728.3,535.8 L729.3,536.5 L730.3,537.2 L731.3,537.9 L732.3,538.7 L733.3,539.4 L734.3,540.1 L735.3,540.9 L736.3,541.6 L737.3,542.3 L738.3,543.1 L739.3,543.8 L740.3,544.5 L741.3,545.3 L742.3,546.0 L743.3,546.7 L744.3,547.4 L745.3,548.2 L746.3,548.9 L747.3,549.6 L748.3,550.4 L749.3,551.1 L750.3,551.8 L751.3,552.6 L752.3,553.3 L753.3,554.0 L754.3,554.8 L755.3,555.5 L756.3,556.2 L757.3,557.0 L758.3,557.7 L759.3,558.4 L760.3,559.2 L761.3,559.9 L762.3,560.7 L763.3,561.4 L764.3,562.1 L765.3,562.9 L766.3,563.6 L767.3,564.3 L768.3,565.1 L769.3,565.8 L770.3,566.5 L771.3,567.3 L772.3,568.0 L773.3,568.7 L774.3,569.5 L775.3,570.2 L776.3,571.0 L777.3,571.7 L778.3,572.4 L779.3,573.2 L780.3,573.9 L781.3,574.6 L782.3,575.4 L783.3,576.1 L784.3,576.9 L785.3,577.6 L786.3,578.3 L787.3,579.1 L788.3,579.8 L789.3,580.6 L790.3,581.3 L791.3,582.0 L792.3,582.8 L792.6,583.0" fill="none" stroke="#000000" stroke-width="2.8" stroke-dasharray="1.6 6.7 6.6 6.7" stroke-linecap="square" stroke-linejoin="miter"/>
<path d="M25.6,139.7 L29.6,143.0 L33.6,146.2 L37.6,149.5 L41.6,152.8 L45.5,156.2 L49.5,159.5 L53.5,162.8 L57.5,166.2 L61.5,169.6 L65.5,172.9 L69.5,176.3 L73.5,179.7 L77.4,183.2 L81.4,186.6 L85.4,190.0 L89.4,193.5 L93.4,196.9 L97.4,200.4 L101.4,203.9 L105.4,207.4 L109.3,210.9 L113.3,214.4 L117.3,218.0 L121.3,221.5 L123.2,223.3" fill="none" stroke="#ff00ff" stroke-width="2.8" stroke-dasharray="1.5 6.77" stroke-linecap="square" stroke-linejoin="miter"/>
<path d="M123.2,223.3 L124.2,222.2 L125.2,221.2 L126.2,220.2 L127.2,219.3 L128.2,218.5 L129.2,217.7 L130.2,217.0 L131.2,216.4 L132.2,215.8 L133.2,215.2 L134.2,214.7 L135.2,214.2 L136.2,213.7 L137.2,213.3 L138.2,212.9 L139.2,212.5 L140.2,212.2 L141.2,211.8 L142.2,211.5 L143.2,211.2 L144.2,211.0 L145.2,210.7 L146.2,210.5 L147.2,210.4 L148.2,210.2 L149.2,210.1 L150.2,210.1 L151.2,210.0 L151.3,210.0 L152.3,210.0 L153.3,209.9 L154.3,209.9 L155.3,209.9 L156.3,209.9 L157.3,209.9 L158.3,210.0 L159.3,210.0 L160.3,210.1 L161.3,210.3 L162.3,210.4 L163.3,210.6 L164.3,210.7 L165.3,210.9 L166.3,211.2 L167.3,211.5 L168.3,211.8 L169.3,212.1 L170.3,212.5 L171.3,212.9 L172.3,213.2 L173.3,213.6 L174.3,213.9 L175.3,214.3 L176.3,214.7 L177.3,215.1 L178.3,215.5 L179.3,215.9 L180.3,216.4 L181.3,216.8 L182.3,217.2 L183.3,217.6 L184.3,218.1 L185.3,218.5 L186.3,219.0 L187.3,219.4 L188.3,219.9 L189.3,220.4 L190.3,220.8 L191.3,221.3 L192.3,221.8 L193.3,222.3 L194.3,222.9 L195.3,223.4 L196.3,223.9 L197.3,224.4 L198.3,224.9 L199.3,225.4 L200.3,225.9 L201.3,226.4 L202.3,226.9 L203.3,227.4 L204.3,227.9 L205.3,228.4 L206.3,228.9 L207.3,229.4 L208.3,229.9 L209.3,230.3 L210.3,230.8 L211.3,231.3 L212.3,231.8 L213.3,232.2 L214.3,232.7 L215.3,233.2 L216.3,233.7 L217.3,234.2 L218.3,234.6 L219.3,235.1 L220.3,235.6 L221.3,236.1 L222.3,236.5 L223.3,237.0 L224.3,237.5 L225.3,238.0 L226.3,238.5 L227.3,239.0 L228.3,239.5 L229.3,240.0 L230.3,240.4 L231.3,240.9 L232.3,241.4 L233.3,242.0 L234.3,242.5 L235.3,243.0 L236.3,243.5 L237.3,244.0 L238.3,244.5 L239.3,245.0 L240.3,245.5 L241.3,246.0 L242.3,246.6 L243.3,247.1 L244.3,247.6 L245.3,248.1 L246.3,248.6 L247.3,249.1 L248.3,249.6 L249.3,250.1 L250.3,250.6 L251.3,251.2 L252.3,251.7 L253.3,252.2 L254.3,252.7 L255.3,253.2 L256.3,253.7 L257.3,254.2 L258.3,254.7 L259.3,255.2 L260.3,255.7 L261.3,256.2 L262.3,256.7 L263.3,257.2 L264.3,257.7 L265.3,258.2 L266.3,258.7 L267.3,259.2 L268.3,259.7 L269.3,260.2 L270.3,260.7 L271.3,261.2 L272.3,261.7 L273.3,262.2 L274.3,262.7 L275.3,263.2 L276.3,263.7 L277.3,264.2 L278.3,264.7 L279.3,265.2 L280.3,265.7 L281.3,266.2 L282.3,266.7 L283.3,267.2 L284.3,267.7 L285.3,268.2 L286.3,268.7 L287.3,269.2 L288.3,269.7 L289.3,270.2 L290.3,270.7 L291.3,271.2 L292.3,271.7 L293.3,272.2 L294.3,272.7 L295.3,273.2 L296.3,273.7 L297.3,274.2 L298.3,274.7 L299.3,275.2 L300.3,275.7 L301.3,276.2 L302.3,276.7 L303.3,277.2 L304.3,277.7 L305.3,278.2 L306.3,278.7 L307.3,279.2 L308.3,279.7 L309.3,280.2 L310.3,280.7 L311.3,281.2 L312.3,281.7 L313.3,282.3 L314.3,282.8 L315.3,283.3 L316.3,283.8 L317.3,284.3 L318.3,284.8 L319.3,285.3 L320.3,285.8 L321.3,286.3 L322.3,286.8 L323.3,287.3 L324.3,287.8 L325.3,288.3 L326.3,288.8 L327.3,289.3 L328.3,289.8 L329.3,290.3 L330.3,290.9 L331.3,291.4 L332.3,291.9 L333.3,292.4 L334.3,292.9 L335.3,293.4 L336.3,293.9 L337.3,294.4 L338.3,294.9 L339.3,295.5 L340.3,296.0 L341.3,296.5 L342.3,297.0 L343.3,297.5 L344.3,298.0 L345.3,298.5 L346.3,299.1 L347.3,299.6 L348.3,300.1 L349.3,300.6 L350.3,301.1 L351.3,301.7 L352.3,302.2 L353.3,302.7 L354.3,303.2 L355.3,303.8 L356.3,304.3 L357.3,304.8 L358.3,305.4 L359.3,305.9 L360.3,306.4 L361.3,307.0 L362.3,307.5 L363.3,308.1 L364.3,308.6 L365.3,309.2 L366.3,309.7 L367.3,310.2 L368.3,310.8 L369.3,311.3 L370.3,311.9 L371.3,312.4 L372.3,312.9 L373.3,313.5 L374.3,314.0 L375.3,314.5 L376.3,315.1 L377.3,315.6 L378.3,316.1 L379.3,316.6 L380.3,317.2 L381.3,317.7 L382.3,318.2 L383.3,318.7 L384.3,319.2 L385.3,319.7 L386.3,320.2 L387.3,320.7 L388.3,321.2 L389.3,321.6 L390.3,322.1 L391.3,322.6 L392.0,323.0 L393.0,323.3 L394.0,323.7 L395.0,324.0 L396.0,324.4 L397.0,324.8 L398.0,325.2 L399.0,325.6 L400.0,326.0 L401.0,326.4 L402.0,326.8 L403.0,327.2 L404.0,327.6 L405.0,328.0 L406.0,328.4 L407.0,328.9 L408.0,329.3 L409.0,329.7 L410.0,330.2 L411.0,330.6 L412.0,331.1 L413.0,331.6 L414.0,332.0 L415.0,332.5 L416.0,333.0 L417.0,333.5 L418.0,334.0 L419.0,334.5 L420.0,335.0 L421.0,335.6 L422.0,336.1 L423.0,336.6 L424.0,337.1 L425.0,337.6 L426.0,338.1 L427.0,338.6 L428.0,339.1 L429.0,339.7 L430.0,340.2 L431.0,340.7 L432.0,341.2 L433.0,341.7 L434.0,342.2 L435.0,342.7 L436.0,343.1 L437.0,343.6 L438.0,344.1 L439.0,344.6 L440.0,345.0 L441.0,345.5 L442.0,346.0 L443.0,346.5 L444.0,346.9 L445.0,347.4 L446.0,347.9 L447.0,348.4 L448.0,348.9 L449.0,349.4 L450.0,349.9 L451.0,350.4 L452.0,350.9 L453.0,351.4 L454.0,351.8 L455.0,352.3 L456.0,352.8 L457.0,353.3 L458.0,353.8 L459.0,354.3 L460.0,354.8 L461.0,355.3 L462.0,355.8 L463.0,356.3 L464.0,356.9 L465.0,357.4 L466.0,357.8 L467.0,358.4 L468.0,358.9 L469.0,359.4 L470.0,359.9 L471.0,360.3 L472.0,360.7 L473.0,360.9 L474.0,361.2 L475.0,361.4 L476.0,361.6 L477.0,361.7 L478.0,361.9 L479.0,362.0 L480.0,362.1 L481.0,362.1 L482.0,362.1 L483.0,362.0 L484.0,361.9 L485.0,361.8 L486.0,361.7 L487.0,361.6 L488.0,361.4 L489.0,361.3 L490.0,361.2 L491.0,361.1 L492.0,360.9 L493.0,360.8 L494.0,360.7 L495.0,360.5 L496.0,360.4 L497.0,360.3 L498.0,360.2 L499.0,360.0 L500.0,359.9 L501.0,359.8 L502.0,359.7 L503.0,359.6 L504.0,359.5 L505.0,359.4 L506.0,359.3 L507.0,359.2 L508.0,359.1 L509.0,359.0 L510.0,358.9 L511.0,358.8 L512.0,358.7 L513.0,358.6 L514.0,358.5 L515.0,358.4 L516.0,358.3 L517.0,358.2 L518.0,358.1 L519.0,358.0 L520.0,357.9 L521.0,357.9 L522.0,357.8 L523.0,357.7 L524.0,357.6 L525.0,357.5 L526.0,357.5 L527.0,357.4 L528.0,357.3 L529.0,357.2 L530.0,357.2 L531.0,357.1 L532.0,357.0 L533.0,357.0 L534.0,356.9 L535.0,356.9 L536.0,356.8 L537.0,356.7 L538.0,356.7 L539.0,356.6 L540.0,356.6 L541.0,356.6 L542.0,356.5 L543.0,356.5 L544.0,356.4 L545.0,356.4 L546.0,356.4 L547.0,356.3 L548.0,356.3 L549.0,356.3 L550.0,356.2 L551.0,356.2 L552.0,356.2 L553.0,356.2 L554.0,356.1 L555.0,356.1 L556.0,356.1 L557.0,356.1 L558.0,356.0 L559.0,356.0 L560.0,356.0 L561.0,356.0 L562.0,356.0 L563.0,355.9 L564.0,355.9 L565.0,355.9 L566.0,355.9 L567.0,355.9 L568.0,355.9 L569.0,355.8 L570.0,355.8 L571.0,355.8 L572.0,355.8 L573.0,355.8 L574.0,355.8 L575.0,355.8 L576.0,355.7 L577.0,355.7 L578.0,355.7 L579.0,355.7 L580.0,355.7 L581.0,355.7 L587.5,356.1 L590.5,357.2 L594.5,359.4 L601.4,363.9 L619.2,377.9 L644.7,399.6 L670.2,422.3 L690.0,442.3 L706.7,457.4 L723.4,473.8 L740.2,490.3 L756.9,506.8 L773.6,523.0 L789.4,537.7 L792.2,583.2" fill="none" stroke="#ff00ff" stroke-width="2.8" stroke-dasharray="1.5 6.77" stroke-linecap="square" stroke-linejoin="miter" stroke-dashoffset="7.07"/>
<line x1="74.3" y1="19.8" x2="137.8" y2="19.8" stroke="#ff0000" stroke-width="2.8" stroke-linecap="square"/>
<line x1="300.4" y1="19.8" x2="364.0" y2="19.8" stroke="#0000ff" stroke-width="2.8" stroke-dasharray="6.7 6.55" stroke-linecap="square"/>
<line x1="547.6" y1="19.8" x2="606.0" y2="19.8" stroke="#000000" stroke-width="2.8" stroke-dasharray="1.6 6.7 6.6 6.7" stroke-linecap="square"/>
<line x1="74.3" y1="59.6" x2="134.2" y2="59.6" stroke="#ff00ff" stroke-width="2.8" stroke-dasharray="1.5 6.77" stroke-linecap="square"/>
<text x="151.5" y="26.8" class="lg z" style="font-size:22.2px" stroke="#000" stroke-width="0.35">ζ</text><rect x="168.8" y="17.10" width="10.6" height="1.8" fill="#000"/><rect x="168.8" y="21.70" width="10.6" height="1.8" fill="#000"/><text x="186.25" y="26.0" class="lg">0 Labeled</text>
<text x="378.2" y="26.8" class="lg z" style="font-size:22.2px" stroke="#000" stroke-width="0.35">ζ</text><rect x="395.5" y="17.10" width="10.6" height="1.8" fill="#000"/><rect x="395.5" y="21.70" width="10.6" height="1.8" fill="#000"/><text x="412.95" y="26.0" class="lg">0 Unlabeled</text>
<text x="625.0" y="26.8" class="lg z" style="font-size:22.2px" stroke="#000" stroke-width="0.35">ζ</text><rect x="642.3" y="17.10" width="10.6" height="1.8" fill="#000"/><rect x="642.3" y="21.70" width="10.6" height="1.8" fill="#000"/><text x="659.75" y="26.0" class="lg">d Labeled</text>
<text x="151.5" y="66.7" class="lg z" style="font-size:22.2px" stroke="#000" stroke-width="0.35">ζ</text><rect x="168.8" y="57.00" width="10.6" height="1.8" fill="#000"/><rect x="168.8" y="61.60" width="10.6" height="1.8" fill="#000"/><text x="186.25" y="65.9" class="lg">d Unlabeled</text>
</svg>
</body></html>
